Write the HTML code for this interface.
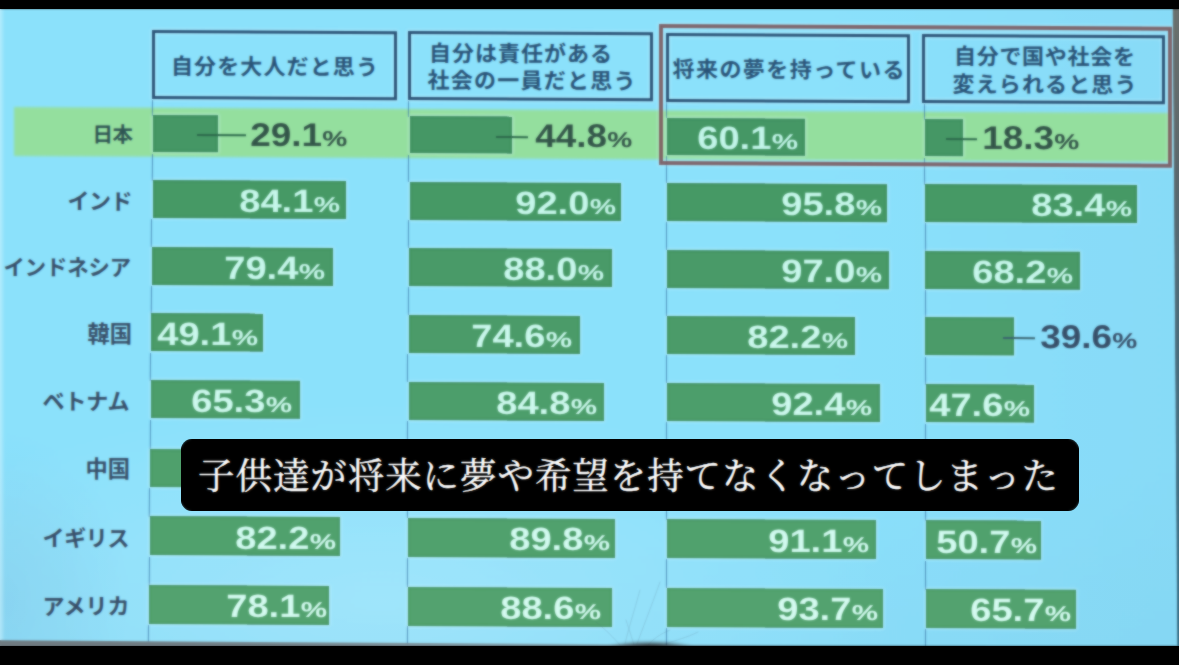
<!DOCTYPE html>
<html lang="ja"><head><meta charset="utf-8"><title>18歳意識調査 国別比較</title>
<style>
html,body{margin:0;padding:0;background:#000;}
body{width:1179px;height:665px;overflow:hidden;position:relative;font-family:"Liberation Sans",sans-serif;}
#photo{position:absolute;left:0;top:0;width:1179px;height:665px;overflow:hidden;background:#000;}
#slide{position:absolute;left:0;top:0;width:1179px;height:665px;
  clip-path:polygon(0 8.7px,1173.2px 8.7px,1177.8px 646px,400px 645.5px,0 640.8px);
  background:
    linear-gradient(90deg,rgba(205,242,253,.6) 0,rgba(205,242,253,0) 5px),
    linear-gradient(90deg,rgba(120,190,225,0) 70%,rgba(120,190,225,.18) 100%),
    radial-gradient(ellipse 130px 170px at 0px 600px,rgba(128,196,228,.4),rgba(128,196,228,0) 100%),
    radial-gradient(ellipse 520px 200px at 380px 600px,rgba(190,240,255,.42),rgba(190,240,255,0) 100%),
    linear-gradient(180deg,rgba(130,200,230,0) 70%,rgba(130,200,230,.22) 100%),
    #8be1fc;
  }
#soft{position:absolute;left:0;top:0;width:1179px;height:665px;backdrop-filter:blur(1px);opacity:.72;pointer-events:none;}
#slide *{position:absolute;box-sizing:border-box;}
.bar{background:#47976a;transform-origin:0 0;box-shadow:0 0 3px 1px rgba(205,246,255,.55),inset 0 0 2.5px rgba(25,95,70,.55);}
.hl{background:#95df9f;transform-origin:0 0;filter:blur(1px);}
.hbox{border:3px solid #2d5578;transform-origin:0 0;box-shadow:0 0 3px 1px rgba(215,248,255,.5),inset 0 0 3px 1px rgba(215,248,255,.45);}
.rbox{border:4px solid #7e5a5e;transform-origin:0 0;opacity:.9;box-shadow:0 0 3px 1px rgba(225,250,255,.45),inset 0 0 3px 1px rgba(225,250,255,.4);}
.axis{width:1.3px;background:#3a76a6;transform-origin:0 0;opacity:.75;}
.ld{height:2.2px;background:#2d6a4c;transform-origin:0 0;margin-top:-.5px;}
.pct{white-space:nowrap;text-rendering:geometricPrecision;font-kerning:none;font-weight:bold;font-size:32.2px;line-height:32.2px;height:32.2px;letter-spacing:0;
  transform-origin:100% 50%;transform:scaleX(1.185);color:#c2f5e9;}
.pct small{position:static!important;display:inline-block;font-size:21.5px;line-height:32.2px;transform:scaleX(1.16);transform-origin:0 100%;margin-right:3.06px;margin-left:.6px;}
.pct.dk,.pct.dk2{font-size:32.800000000000004px;transform:scaleX(1.125);margin-top:-1.2px;}
.pct.dk{color:#34564a;}
.pct.dk2{color:#38506a;}
svg.g{overflow:visible;transform-origin:0 0;}
svg.g text{font-family:"Liberation Sans","Noto Sans CJK JP",sans-serif;font-weight:bold;}
#sub{position:absolute;left:180.7px;top:438.9px;width:898.1px;height:72px;background:#000;border-radius:11px;}
#sub svg{position:absolute;}
#sub svg.g text{font-family:"Liberation Serif","Noto Serif CJK SC",serif;font-weight:normal;stroke:#fff;stroke-width:.45px;stroke-linejoin:round;}
#sub b{position:absolute;left:0;top:0;width:100%;height:100%;border-radius:11px;backdrop-filter:blur(1px);opacity:.5;}
#topbar{position:absolute;left:0;top:0;width:1179px;height:8.9px;background:#000;}
#botbar{position:absolute;left:0;top:646.3px;width:1179px;height:20px;background:#000;}
#rstrip{position:absolute;left:1171.6px;top:8.7px;width:8px;height:640px;
  clip-path:polygon(1.2px 0,8px 0,8px 640px,5.8px 640px);
  background:linear-gradient(180deg,#6a706e 0,#5c686c 25%,#4a6c7c 55%,#3a7088 100%);}
#bgray{position:absolute;left:0;top:640.3px;width:800px;height:6.5px;
  background:linear-gradient(90deg,rgba(112,124,130,1) 0,rgba(122,138,146,.9) 50%,rgba(130,150,160,0) 100%);
  clip-path:polygon(0 0,800px 5.2px,800px 6.5px,0 6.5px);}
#hair{position:absolute;left:590px;top:560px;width:140px;height:90px;}
#hair i{position:absolute;left:8px;top:70px;width:110px;height:18px;
  background:radial-gradient(ellipse 44px 7px at 52px 17.5px,rgba(22,16,14,.92) 0,rgba(40,32,32,.55) 55%,rgba(60,60,66,0) 100%);filter:blur(1px);}
</style></head><body>
<div id="photo">
<div id="slide">
<div class="hl" style="left:13.6px;top:107.19px;width:1157.4px;height:48.5px;transform:skewY(0.298deg)"></div>
<div class="axis" style="left:152.24px;top:99.51px;height:16.0px;transform:skewX(-0.458deg)"></div>
<div class="axis" style="left:151.81px;top:153.61px;height:27.1px;transform:skewX(-0.458deg)"></div>
<div class="axis" style="left:151.28px;top:219.11px;height:28.3px;transform:skewX(-0.458deg)"></div>
<div class="axis" style="left:150.75px;top:285.61px;height:28.2px;transform:skewX(-0.458deg)"></div>
<div class="axis" style="left:150.22px;top:352.51px;height:28.2px;transform:skewX(-0.458deg)"></div>
<div class="axis" style="left:149.68px;top:419.71px;height:29.3px;transform:skewX(-0.458deg)"></div>
<div class="axis" style="left:149.13px;top:488.01px;height:28.8px;transform:skewX(-0.458deg)"></div>
<div class="axis" style="left:148.58px;top:556.81px;height:28.9px;transform:skewX(-0.458deg)"></div>
<div class="axis" style="left:148.03px;top:625.01px;height:23.0px;transform:skewX(-0.458deg)"></div>
<div class="axis" style="left:408.25px;top:100.84px;height:16.0px;transform:skewX(-0.184deg)"></div>
<div class="axis" style="left:408.08px;top:154.94px;height:27.1px;transform:skewX(-0.184deg)"></div>
<div class="axis" style="left:407.87px;top:220.44px;height:28.3px;transform:skewX(-0.184deg)"></div>
<div class="axis" style="left:407.65px;top:286.94px;height:28.2px;transform:skewX(-0.184deg)"></div>
<div class="axis" style="left:407.44px;top:353.84px;height:28.2px;transform:skewX(-0.184deg)"></div>
<div class="axis" style="left:407.22px;top:421.04px;height:29.3px;transform:skewX(-0.184deg)"></div>
<div class="axis" style="left:407.00px;top:489.34px;height:28.8px;transform:skewX(-0.184deg)"></div>
<div class="axis" style="left:406.78px;top:558.14px;height:28.9px;transform:skewX(-0.184deg)"></div>
<div class="axis" style="left:406.56px;top:626.34px;height:21.7px;transform:skewX(-0.184deg)"></div>
<div class="axis" style="left:665.79px;top:102.18px;height:16.0px;transform:skewX(0.022deg)"></div>
<div class="axis" style="left:665.82px;top:156.28px;height:27.1px;transform:skewX(0.022deg)"></div>
<div class="axis" style="left:665.84px;top:221.78px;height:28.3px;transform:skewX(0.022deg)"></div>
<div class="axis" style="left:665.87px;top:288.28px;height:28.2px;transform:skewX(0.022deg)"></div>
<div class="axis" style="left:665.89px;top:355.18px;height:28.2px;transform:skewX(0.022deg)"></div>
<div class="axis" style="left:665.92px;top:422.38px;height:29.3px;transform:skewX(0.022deg)"></div>
<div class="axis" style="left:665.94px;top:490.68px;height:28.8px;transform:skewX(0.022deg)"></div>
<div class="axis" style="left:665.97px;top:559.48px;height:28.9px;transform:skewX(0.022deg)"></div>
<div class="axis" style="left:666.00px;top:627.68px;height:20.3px;transform:skewX(0.022deg)"></div>
<div class="axis" style="left:924.37px;top:103.52px;height:16.0px;transform:skewX(0.114deg)"></div>
<div class="axis" style="left:924.48px;top:157.62px;height:27.1px;transform:skewX(0.114deg)"></div>
<div class="axis" style="left:924.61px;top:223.12px;height:28.3px;transform:skewX(0.114deg)"></div>
<div class="axis" style="left:924.74px;top:289.62px;height:28.2px;transform:skewX(0.114deg)"></div>
<div class="axis" style="left:924.88px;top:356.52px;height:28.2px;transform:skewX(0.114deg)"></div>
<div class="axis" style="left:925.01px;top:423.72px;height:29.3px;transform:skewX(0.114deg)"></div>
<div class="axis" style="left:925.15px;top:492.02px;height:28.8px;transform:skewX(0.114deg)"></div>
<div class="axis" style="left:925.29px;top:560.82px;height:28.9px;transform:skewX(0.114deg)"></div>
<div class="axis" style="left:925.42px;top:629.02px;height:19.0px;transform:skewX(0.114deg)"></div>
<div class="hbox" style="left:151.8px;top:29.90px;width:245.2px;height:68.5px;transform:skewY(0.298deg)"></div>
<div class="hbox" style="left:408.0px;top:31.24px;width:245.2px;height:68.5px;transform:skewY(0.298deg)"></div>
<div class="hbox" style="left:665.6px;top:32.58px;width:244.4px;height:68.5px;transform:skewY(0.298deg)"></div>
<div class="hbox" style="left:921.9px;top:33.91px;width:242.7px;height:68.5px;transform:skewY(0.298deg)"></div>
<div class="rbox" style="left:659.2px;top:23.84px;width:513.2px;height:140.7px;transform:skewY(0.298deg)"></div>
<svg class="g" role="img" aria-label="自分を大人だと思う" style="left:168.38px;top:53.65px;transform:skewY(0.298deg);" width="215.05" height="26.25" viewBox="0 0 215.05 26.25"><title>自分を大人だと思う</title><text x="3" y="20" font-size="22" fill="#2a5478" textLength="207" lengthAdjust="spacing">自分を大人だと思う</text></svg>
<svg class="g" role="img" aria-label="自分は責任がある" style="left:425.98px;top:41.25px;transform:skewY(0.298deg);" width="191.20" height="26.25" viewBox="0 0 191.20 26.25"><title>自分は責任がある</title><text x="3" y="20" font-size="22" fill="#2a5478" textLength="183" lengthAdjust="spacing">自分は責任がある</text></svg>
<svg class="g" role="img" aria-label="社会の一員だと思う" style="left:426.03px;top:68.25px;transform:skewY(0.298deg);" width="214.60" height="26.25" viewBox="0 0 214.60 26.25"><title>社会の一員だと思う</title><text x="1.5" y="20" font-size="22" fill="#2a5478" textLength="208" lengthAdjust="spacing">社会の一員だと思う</text></svg>
<svg class="g" role="img" aria-label="将来の夢を持っている" style="left:670.60px;top:56.65px;transform:skewY(0.298deg);" width="238.50" height="26.25" viewBox="0 0 238.50 26.25"><title>将来の夢を持っている</title><text x="1.5" y="20" font-size="22" fill="#2a5478" textLength="232" lengthAdjust="spacing">将来の夢を持っている</text></svg>
<svg class="g" role="img" aria-label="自分で国や社会を" style="left:950.68px;top:44.45px;transform:skewY(0.298deg);" width="188.00" height="26.25" viewBox="0 0 188.00 26.25"><title>自分で国や社会を</title><text x="3" y="20" font-size="22" fill="#2a5478" textLength="181" lengthAdjust="spacing">自分で国や社会を</text></svg>
<svg class="g" role="img" aria-label="変えられると思う" style="left:950.71px;top:71.85px;transform:skewY(0.298deg);" width="190.80" height="26.25" viewBox="0 0 190.80 26.25"><title>変えられると思う</title><text x="1.5" y="20" font-size="22" fill="#2a5478" textLength="184" lengthAdjust="spacing">変えられると思う</text></svg>
<svg class="g" role="img" aria-label="日本" style="left:90.35px;top:123.16px;" width="44.40" height="25.25" viewBox="0 0 44.40 25.25"><title>日本</title><text x="2.5" y="19.3" font-size="20.5" fill="#2f5654" textLength="40.5" lengthAdjust="spacing">日本</text></svg>
<div class="bar" style="left:153.07px;top:115.01px;width:65.03px;height:37.40px;background:#459765;transform:skewY(0.298deg)"></div>
<div class="ld" style="left:197.0px;top:134.54px;width:48.5px;transform:skewY(0.298deg)"></div>
<div class="pct dk" style="right:831.00px;top:119.80px">29.1<small>%</small></div>
<div class="bar" style="left:409.75px;top:116.35px;width:101.65px;height:37.40px;background:#459765;transform:skewY(0.298deg)"></div>
<div class="ld" style="left:496.0px;top:136.09px;width:32.0px;transform:skewY(0.298deg)"></div>
<div class="pct dk" style="right:546.50px;top:121.28px">44.8<small>%</small></div>
<div class="bar" style="left:667.01px;top:117.68px;width:137.79px;height:37.40px;background:#459765;transform:skewY(0.298deg)"></div>
<div class="pct" style="right:380.80px;top:122.14px;color:#c2f5e9">60.1<small>%</small></div>
<div class="bar" style="left:925.03px;top:119.02px;width:38.27px;height:37.40px;background:#459765;transform:skewY(0.298deg)"></div>
<div class="ld" style="left:946.0px;top:138.43px;width:31.4px;transform:skewY(0.298deg)"></div>
<div class="pct dk" style="right:99.70px;top:123.60px">18.3<small>%</small></div>
<svg class="g" role="img" aria-label="インド" style="left:65.55px;top:187.67px;" width="68.80" height="27.00" viewBox="0 0 68.80 27.00"><title>インド</title><text x="1.5" y="20.6" font-size="22" fill="#38506a" textLength="65" lengthAdjust="spacing">インド</text></svg>
<div class="bar" style="left:152.54px;top:180.21px;width:193.06px;height:37.70px;background:#479966;transform:skewY(0.298deg)"></div>
<div class="pct" style="right:838.80px;top:185.11px;color:#c5f6ea">84.1<small>%</small></div>
<div class="bar" style="left:409.54px;top:181.54px;width:211.06px;height:37.70px;background:#479966;transform:skewY(0.298deg)"></div>
<div class="pct" style="right:562.80px;top:186.55px;color:#c5f6ea">92.0<small>%</small></div>
<div class="bar" style="left:667.03px;top:182.88px;width:219.97px;height:37.70px;background:#479966;transform:skewY(0.298deg)"></div>
<div class="pct" style="right:297.00px;top:187.93px;color:#c5f6ea">95.8<small>%</small></div>
<div class="bar" style="left:925.16px;top:184.23px;width:212.34px;height:37.70px;background:#479966;transform:skewY(0.298deg)"></div>
<div class="pct" style="right:46.60px;top:189.23px;color:#c5f6ea">83.4<small>%</small></div>
<svg class="g" role="img" aria-label="インドネシア" style="left:2.15px;top:254.74px;" width="130.60" height="26.38" viewBox="0 0 130.60 26.38"><title>インドネシア</title><text x="1.5" y="20.1" font-size="21.3" fill="#38506a" textLength="127.5" lengthAdjust="spacing">インドネシア</text></svg>
<div class="bar" style="left:152.01px;top:246.91px;width:180.99px;height:37.50px;background:#499a68;transform:skewY(0.298deg)"></div>
<div class="pct" style="right:853.40px;top:251.64px;color:#c7f6eb">79.4<small>%</small></div>
<div class="bar" style="left:409.33px;top:248.24px;width:202.77px;height:37.50px;background:#499a68;transform:skewY(0.298deg)"></div>
<div class="pct" style="right:574.70px;top:253.08px;color:#c7f6eb">88.0<small>%</small></div>
<div class="bar" style="left:667.06px;top:249.58px;width:222.44px;height:37.50px;background:#499a68;transform:skewY(0.298deg)"></div>
<div class="pct" style="right:297.00px;top:254.53px;color:#c7f6eb">97.0<small>%</small></div>
<div class="bar" style="left:925.30px;top:250.93px;width:154.50px;height:37.50px;background:#499a68;transform:skewY(0.298deg)"></div>
<div class="pct" style="right:106.00px;top:255.52px;color:#c7f6eb">68.2<small>%</small></div>
<svg class="g" role="img" aria-label="韓国" style="left:85.58px;top:320.82px;" width="47.40" height="27.13" viewBox="0 0 47.40 27.13"><title>韓国</title><text x="1.5" y="20.7" font-size="22.3" fill="#38506a" textLength="44.5" lengthAdjust="spacing">韓国</text></svg>
<div class="bar" style="left:151.48px;top:313.30px;width:111.92px;height:38.00px;background:#4b9c69;transform:skewY(0.298deg)"></div>
<div class="pct" style="right:920.70px;top:317.94px;color:#caf7ec">49.1<small>%</small></div>
<div class="bar" style="left:409.11px;top:314.64px;width:171.39px;height:38.00px;background:#4b9c69;transform:skewY(0.298deg)"></div>
<div class="pct" style="right:607.00px;top:319.57px;color:#caf7ec">74.6<small>%</small></div>
<div class="bar" style="left:667.09px;top:315.98px;width:188.41px;height:38.00px;background:#4b9c69;transform:skewY(0.298deg)"></div>
<div class="pct" style="right:331.00px;top:321.00px;color:#caf7ec">82.2<small>%</small></div>
<div class="bar" style="left:925.43px;top:317.33px;width:88.77px;height:38.00px;background:#4b9c69;transform:skewY(0.298deg)"></div>
<div class="ld" style="left:1003.3px;top:337.33px;width:32.3px;transform:skewY(0.298deg);background:#3a6470"></div>
<div class="pct dk2" style="right:41.50px;top:322.51px">39.6<small>%</small></div>
<svg class="g" role="img" aria-label="ベトナム" style="left:41.34px;top:387.96px;" width="90.40" height="27.00" viewBox="0 0 90.40 27.00"><title>ベトナム</title><text x="1.5" y="20.6" font-size="22" fill="#38506a" textLength="87" lengthAdjust="spacing">ベトナム</text></svg>
<div class="bar" style="left:150.94px;top:380.20px;width:149.06px;height:38.30px;background:#4d9e6b;transform:skewY(0.298deg)"></div>
<div class="pct" style="right:886.40px;top:385.16px;color:#ccf8ed">65.3<small>%</small></div>
<div class="bar" style="left:408.90px;top:381.54px;width:195.40px;height:38.30px;background:#4d9e6b;transform:skewY(0.298deg)"></div>
<div class="pct" style="right:581.50px;top:386.75px;color:#ccf8ed">84.8<small>%</small></div>
<div class="bar" style="left:667.11px;top:382.88px;width:212.89px;height:38.30px;background:#4d9e6b;transform:skewY(0.298deg)"></div>
<div class="pct" style="right:306.50px;top:388.18px;color:#ccf8ed">92.4<small>%</small></div>
<div class="bar" style="left:925.56px;top:384.23px;width:107.64px;height:38.30px;background:#4d9e6b;transform:skewY(0.298deg)"></div>
<div class="pct" style="right:148.20px;top:389.00px;color:#ccf8ed">47.6<small>%</small></div>
<svg class="g" role="img" aria-label="中国" style="left:84.49px;top:456.16px;" width="47.40" height="27.13" viewBox="0 0 47.40 27.13"><title>中国</title><text x="1.5" y="20.7" font-size="22.3" fill="#38506a" textLength="44.5" lengthAdjust="spacing">中国</text></svg>
<div class="bar" style="left:150.40px;top:448.50px;width:179.60px;height:38.30px;background:#4fa06c;transform:skewY(0.298deg)"></div>
<div class="bar" style="left:408.68px;top:449.84px;width:191.32px;height:38.30px;background:#4fa06c;transform:skewY(0.298deg)"></div>
<div class="bar" style="left:667.14px;top:451.18px;width:212.86px;height:38.30px;background:#4fa06c;transform:skewY(0.298deg)"></div>
<div class="bar" style="left:925.70px;top:452.53px;width:134.30px;height:38.30px;background:#4fa06c;transform:skewY(0.298deg)"></div>
<svg class="g" role="img" aria-label="イギリス" style="left:40.93px;top:524.55px;" width="90.40" height="27.00" viewBox="0 0 90.40 27.00"><title>イギリス</title><text x="1.5" y="20.6" font-size="22" fill="#38506a" textLength="87" lengthAdjust="spacing">イギリス</text></svg>
<div class="bar" style="left:149.85px;top:516.29px;width:189.65px;height:39.30px;background:#51a16e;transform:skewY(0.298deg)"></div>
<div class="pct" style="right:843.00px;top:521.99px;color:#d1f9ef">82.2<small>%</small></div>
<div class="bar" style="left:408.46px;top:517.64px;width:206.94px;height:39.30px;background:#51a16e;transform:skewY(0.298deg)"></div>
<div class="pct" style="right:568.80px;top:523.42px;color:#d1f9ef">89.8<small>%</small></div>
<div class="bar" style="left:667.17px;top:518.98px;width:209.43px;height:39.30px;background:#51a16e;transform:skewY(0.298deg)"></div>
<div class="pct" style="right:309.90px;top:524.76px;color:#d1f9ef">91.1<small>%</small></div>
<div class="bar" style="left:925.84px;top:520.33px;width:114.76px;height:39.30px;background:#51a16e;transform:skewY(0.298deg)"></div>
<div class="pct" style="right:141.70px;top:525.64px;color:#d1f9ef">50.7<small>%</small></div>
<svg class="g" role="img" aria-label="アメリカ" style="left:41.44px;top:593.10px;" width="90.40" height="27.00" viewBox="0 0 90.40 27.00"><title>アメリカ</title><text x="1.5" y="20.6" font-size="22" fill="#38506a" textLength="87" lengthAdjust="spacing">アメリカ</text></svg>
<div class="bar" style="left:149.30px;top:585.19px;width:179.80px;height:38.60px;background:#53a36f;transform:skewY(0.298deg)"></div>
<div class="pct" style="right:851.90px;top:590.49px;color:#d4faf0">78.1<small>%</small></div>
<div class="bar" style="left:408.25px;top:586.54px;width:204.25px;height:38.60px;background:#53a36f;transform:skewY(0.298deg)"></div>
<div class="pct" style="right:577.20px;top:591.92px;color:#d4faf0">88.6<small>%</small></div>
<div class="bar" style="left:667.20px;top:587.88px;width:216.20px;height:38.60px;background:#53a36f;transform:skewY(0.298deg)"></div>
<div class="pct" style="right:300.70px;top:593.36px;color:#d4faf0">93.7<small>%</small></div>
<div class="bar" style="left:925.98px;top:589.23px;width:149.52px;height:38.60px;background:#53a36f;transform:skewY(0.298deg)"></div>
<div class="pct" style="right:107.30px;top:594.37px;color:#d4faf0">65.7<small>%</small></div>
</div>
<div id="rstrip"></div><div id="bgray"></div><div id="hair"><svg width="140" height="90" viewBox="0 0 140 90" fill="none" stroke="#48607a" stroke-width="1" stroke-linecap="round" opacity=".17"><path d="M35 84C38 70 44 52 50 30"/><path d="M44 85C40 72 38 66 36 60"/><path d="M47 84C52 70 60 50 70 22"/><path d="M58 85C62 80 70 74 80 70"/><path d="M30 85C24 78 16 70 6 62"/><path d="M75 84C86 80 96 78 108 72"/></svg><i></i></div><div id="soft"></div>
<div id="topbar"></div><div id="botbar"></div>
<div id="sub"><svg class="g" role="img" aria-label="子供達が将来に夢や希望を持てなくなってしまった" style="left:15.20px;top:15.08px;" width="866.50" height="46.88" viewBox="0 0 866.50 46.88"><title>子供達が将来に夢や希望を持てなくなってしまった</title><text x="2" y="35" font-size="36.5" fill="#fff" textLength="860" lengthAdjust="spacing">子供達が将来に夢や希望を持てなくなってしまった</text></svg><b></b></div>
</div></body></html>
